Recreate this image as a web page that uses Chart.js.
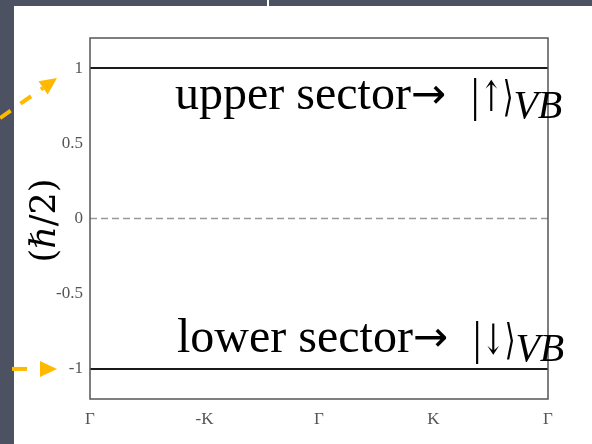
<!DOCTYPE html>
<html>
<head>
<meta charset="utf-8">
<script src="https://cdn.jsdelivr.net/npm/chart.js@4.4.0/dist/chart.umd.min.js"></script>
<style>
  html, body { margin: 0; padding: 0; }
  body { width: 592px; height: 444px; background: #4d5262; position: relative; overflow: hidden; }
  #sheet { position: absolute; left: 14px; top: 6px; width: 578px; height: 438px; background: #fff; }
  #notch { position: absolute; left: 267px; top: 0; width: 2px; height: 6px; background: #fff; }
  #wrap { position: absolute; left: 0; top: 0; width: 592px; height: 444px; }
</style>
</head>
<body>
<div id="sheet"></div>
<div id="notch"></div>
<div id="wrap"><canvas id="spinChart"></canvas></div>
<script>
// k-path labels along the x axis
const kPath = ['Γ', '-K', 'Γ', 'K', 'Γ'];
// spin expectation (units of hbar/2) for each sector
const upperSector = [1, 1, 1, 1, 1];
const lowerSector = [-1, -1, -1, -1, -1];
const zeroRef = [0, 0, 0, 0, 0];
const yTicks = [-1, -0.5, 0, 0.5, 1];

const SERIF = '"Liberation Serif", "Times New Roman", serif';
const MATH = '"DejaVu Serif", serif';

// frame, axis title, sector labels and the pointer arrows
const decorations = {
    id: 'decorations',
    afterDraw(chart) {
        const ctx = chart.ctx;
        const area = chart.chartArea;
        const y = chart.scales.y;
        ctx.save();

        ctx.strokeStyle = '#555';
        ctx.lineWidth = 1.5;
        ctx.strokeRect(area.left, area.top, area.right - area.left, area.bottom - area.top);

        // y axis title
        ctx.save();
        ctx.translate(46, (area.top + area.bottom) / 2 + 2);
        ctx.rotate(-Math.PI / 2);
        ctx.fillStyle = '#000';
        ctx.font = '35px ' + MATH;
        ctx.textAlign = 'center';
        ctx.textBaseline = 'middle';
        ctx.fillText('(ℏ/2)', 0, 0);
        ctx.restore();

        // sector labels: words, arrow, ket and its subscript
        const drawLabel = (words, ket, x, baseY) => {
            ctx.fillStyle = '#000';
            ctx.textAlign = 'left';
            ctx.textBaseline = 'alphabetic';
            ctx.font = '48px ' + SERIF;
            ctx.fillText(words, x, baseY);
            x += ctx.measureText(words).width;
            ctx.font = '42px "DejaVu Sans", sans-serif';
            ctx.fillText('→', x, baseY - 1);
            x += ctx.measureText('→ ').width + 11;
            ctx.font = '42px ' + MATH;
            const ketW = Math.min(ctx.measureText(ket).width, 43);
            ctx.fillText(ket, x, baseY + 2, ketW);
            x += ketW;
            ctx.font = 'italic 40px ' + SERIF;
            ctx.fillText('VB', x, baseY + 9);
        };
        drawLabel('upper sector', '|↑⟩', area.left + 85, y.getPixelForValue(1) + 41);
        drawLabel('lower sector', '|↓⟩', area.left + 87, y.getPixelForValue(-1) - 17);

        // dashed pointer arrows
        const arrow = (x0, y0, x1, y1, dash) => {
            const ang = Math.atan2(y1 - y0, x1 - x0);
            const head = 17;
            const bx = x1 - head * Math.cos(ang), by = y1 - head * Math.sin(ang);
            ctx.strokeStyle = '#ffb900';
            ctx.fillStyle = '#ffb900';
            ctx.lineWidth = 4;
            ctx.setLineDash(dash);
            ctx.beginPath();
            ctx.moveTo(x0, y0);
            ctx.lineTo(bx, by);
            ctx.stroke();
            ctx.setLineDash([]);
            ctx.beginPath();
            ctx.moveTo(x1, y1);
            ctx.lineTo(bx + 8 * Math.sin(ang), by - 8 * Math.cos(ang));
            ctx.lineTo(bx - 8 * Math.sin(ang), by + 8 * Math.cos(ang));
            ctx.closePath();
            ctx.fill();
        };
        arrow(0, y.getPixelForValue(1) + 50, 57, y.getPixelForValue(1) + 10, [13, 12]);
        arrow(12, y.getPixelForValue(-1), 57, y.getPixelForValue(-1), [15, 13]);

        ctx.restore();
    }
};

new Chart(document.getElementById('spinChart'), {
    type: 'line',
    data: {
        labels: kPath,
        datasets: [
            { label: 'upper', data: upperSector, borderColor: '#1a1a1a', borderWidth: 2, pointRadius: 0 },
            { label: 'lower', data: lowerSector, borderColor: '#1a1a1a', borderWidth: 2, pointRadius: 0 },
            { label: 'zero', data: zeroRef, borderColor: '#999', borderWidth: 1.3, borderDash: [7, 4], pointRadius: 0 }
        ]
    },
    options: {
        responsive: true,
        maintainAspectRatio: false,
        animation: false,
        layout: { padding: { top: 38, right: 44, bottom: 0, left: 0 } },
        plugins: { legend: { display: false }, tooltip: { enabled: false } },
        scales: {
            x: {
                offset: false,
                grid: { display: false, drawTicks: false },
                border: { display: false },
                ticks: { color: '#555', font: { family: SERIF, size: 17 }, padding: 10, maxRotation: 0, autoSkip: false },
                afterFit(scale) { scale.height = 45; }
            },
            y: {
                min: -1.2,
                max: 1.2,
                grid: { display: false, drawTicks: false },
                border: { display: false },
                ticks: { color: '#555', font: { family: SERIF, size: 17 }, padding: 7, callback: v => String(v) },
                afterBuildTicks(scale) { scale.ticks = yTicks.map(v => ({ value: v })); },
                afterFit(scale) { scale.width = 90; }
            }
        }
    },
    plugins: [decorations]
});
</script>
</body>
</html>
